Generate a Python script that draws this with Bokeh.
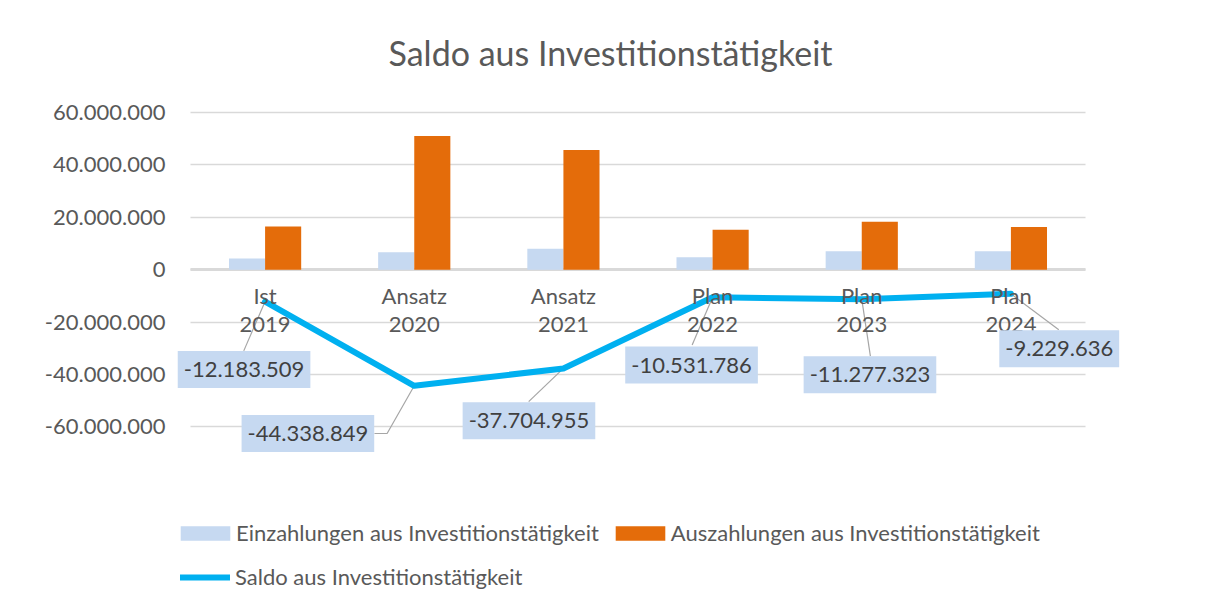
from bokeh.plotting import figure
from bokeh.models import Range1d, FixedTicker, Grid, Legend, LegendItem, Label
from bokeh.core.properties import value
from bokeh.embed import file_html
from bokeh.resources import INLINE

# ---------------- data ----------------
categories = ["Ist 2019", "Ansatz 2020", "Ansatz 2021", "Plan 2022", "Plan 2023", "Plan 2024"]
cat_line1 = ["Ist", "Ansatz", "Ansatz", "Plan", "Plan", "Plan"]
cat_line2 = ["2019", "2020", "2021", "2022", "2023", "2024"]
einzahlungen = [4_300_000, 6_600_000, 8_000_000, 4_700_000, 7_000_000, 7_000_000]
auszahlungen = [16_500_000, 51_000_000, 45_700_000, 15_200_000, 18_300_000, 16_300_000]
saldo = [-12_183_509, -44_338_849, -37_704_955, -10_531_786, -11_277_323, -9_229_636]
y_ticks = [-60_000_000, -40_000_000, -20_000_000, 0, 20_000_000, 40_000_000, 60_000_000]

# ---------------- placement of data labels (category-unit offsets / axis values) ----------------
label_dx = [-0.141, -0.713, -0.231, -0.141, 0.055, 0.324]
label_y = [-38.1e6, -62.5e6, -57.7e6, -36.4e6, -40.1e6, -30.2e6]
leader_dx = [[0, -0.143], [0, -0.182, -0.267], [0, -0.233], [0, -0.137], [0, 0.058], [0, 0.321]]
leader_y = [[None, -31.0e6], [None, -62.55e6, -62.55e6], [None, -50.4e6], [None, -28.8e6],
            [None, -33.0e6], [None, -22.95e6]]


def de_fmt(v):
    return f"{int(v):,}".replace(",", ".")


FONT = "Lato"
TXT = "#595959"
GRID = "#D9D9D9"
BLUE_LIGHT = "#C6D9F1"
ORANGE = "#E46C0A"
CYAN = "#00B0F0"

n = len(categories)
x = list(range(n))
bar_w = 0.242
cat_span = (-0.5, n - 0.5)

p = figure(width=1200, height=600,
           x_range=Range1d(-0.6006, 5.7682),
           y_range=Range1d(-126.29e6, 64.19e6),
           x_axis_location=None,
           output_backend="svg", toolbar_location=None,
           min_border_left=175, min_border_right=75, min_border_top=100, min_border_bottom=0)

p.title.text = "Saldo aus Investitionstätigkeit"
p.title.align = "left"
p.title.offset = 213
p.title.text_font = FONT
p.title.text_font_size = "34px"
p.title.text_font_style = "normal"
p.title.text_color = TXT
p.title.standoff = 58

p.outline_line_color = None
p.xgrid.grid_line_color = None
p.ygrid.grid_line_color = GRID
p.ygrid.grid_line_width = 1.5
p.ygrid.cross_bounds = cat_span
p.yaxis.ticker = FixedTicker(ticks=y_ticks)
p.yaxis.major_label_overrides = {t: de_fmt(t) for t in y_ticks}
p.yaxis.axis_line_color = None
p.yaxis.major_tick_line_color = None
p.yaxis.minor_tick_line_color = None
p.yaxis.major_tick_out = 0
p.yaxis.major_tick_in = 0
p.yaxis.major_label_standoff = 10
p.yaxis.major_label_text_font = FONT
p.yaxis.major_label_text_font_size = "22px"
p.yaxis.major_label_text_color = TXT

# horizontal category axis line at zero
p.add_layout(Grid(dimension=1, ticker=FixedTicker(ticks=[0]), grid_line_color=GRID,
                  grid_line_width=3, cross_bounds=cat_span))

x_ein = [i - bar_w / 2 for i in x]
x_aus = [i + bar_w / 2 for i in x]
r_ein = p.vbar(x=x_ein, top=einzahlungen, bottom=0, width=bar_w, fill_color=BLUE_LIGHT, line_color=None)
r_aus = p.vbar(x=x_aus, top=auszahlungen, bottom=0, width=bar_w, fill_color=ORANGE, line_color=None)

# leader lines
xs, ys = [], []
for i, (dxs, yy) in enumerate(zip(leader_dx, leader_y)):
    xs.append([i + d for d in dxs])
    ys.append([saldo[i] if v is None else v for v in yy])
p.multi_line(xs=xs, ys=ys, line_color="#A6A6A6", line_width=1.2)

r_line = p.line(x=x, y=saldo, line_color=CYAN, line_width=6, line_cap="round", line_join="round")

# category labels
p.text(x=x, y=[0] * n, text=cat_line1, y_offset=26, text_align="center", text_baseline="middle",
       text_font=value(FONT), text_font_size="22px", text_color=TXT)
p.text(x=x, y=[0] * n, text=cat_line2, y_offset=55, text_align="center", text_baseline="middle",
       text_font=value(FONT), text_font_size="22px", text_color=TXT)

# data labels
for i, (dx, ly, v) in enumerate(zip(label_dx, label_y, saldo)):
    p.add_layout(Label(x=i + dx, y=ly, text=de_fmt(v), text_align="center", text_baseline="middle",
                       text_font=FONT, text_font_size="22px", text_color="#404040",
                       background_fill_color=BLUE_LIGHT, padding=(6, 11)))

leg_common = dict(orientation="horizontal", glyph_height=18, padding=0, margin=0,
                  border_line_color=None, background_fill_alpha=0,
                  label_text_font=FONT, label_text_font_size="22px", label_text_color=TXT)
leg1 = Legend(items=[LegendItem(label="Einzahlungen aus Investitionstätigkeit", renderers=[r_ein]),
                     LegendItem(label="Auszahlungen aus Investitionstätigkeit", renderers=[r_aus])],
              location=(-1, 54), glyph_width=62, label_standoff=0, spacing=10, **leg_common)
leg2 = Legend(items=[LegendItem(label="Saldo aus Investitionstätigkeit", renderers=[r_line])],
              location=(5, 10), glyph_width=50, label_standoff=5, spacing=10, **leg_common)
p.add_layout(leg1)
p.add_layout(leg2)

open("out.html", "w").write(file_html(p, INLINE))
